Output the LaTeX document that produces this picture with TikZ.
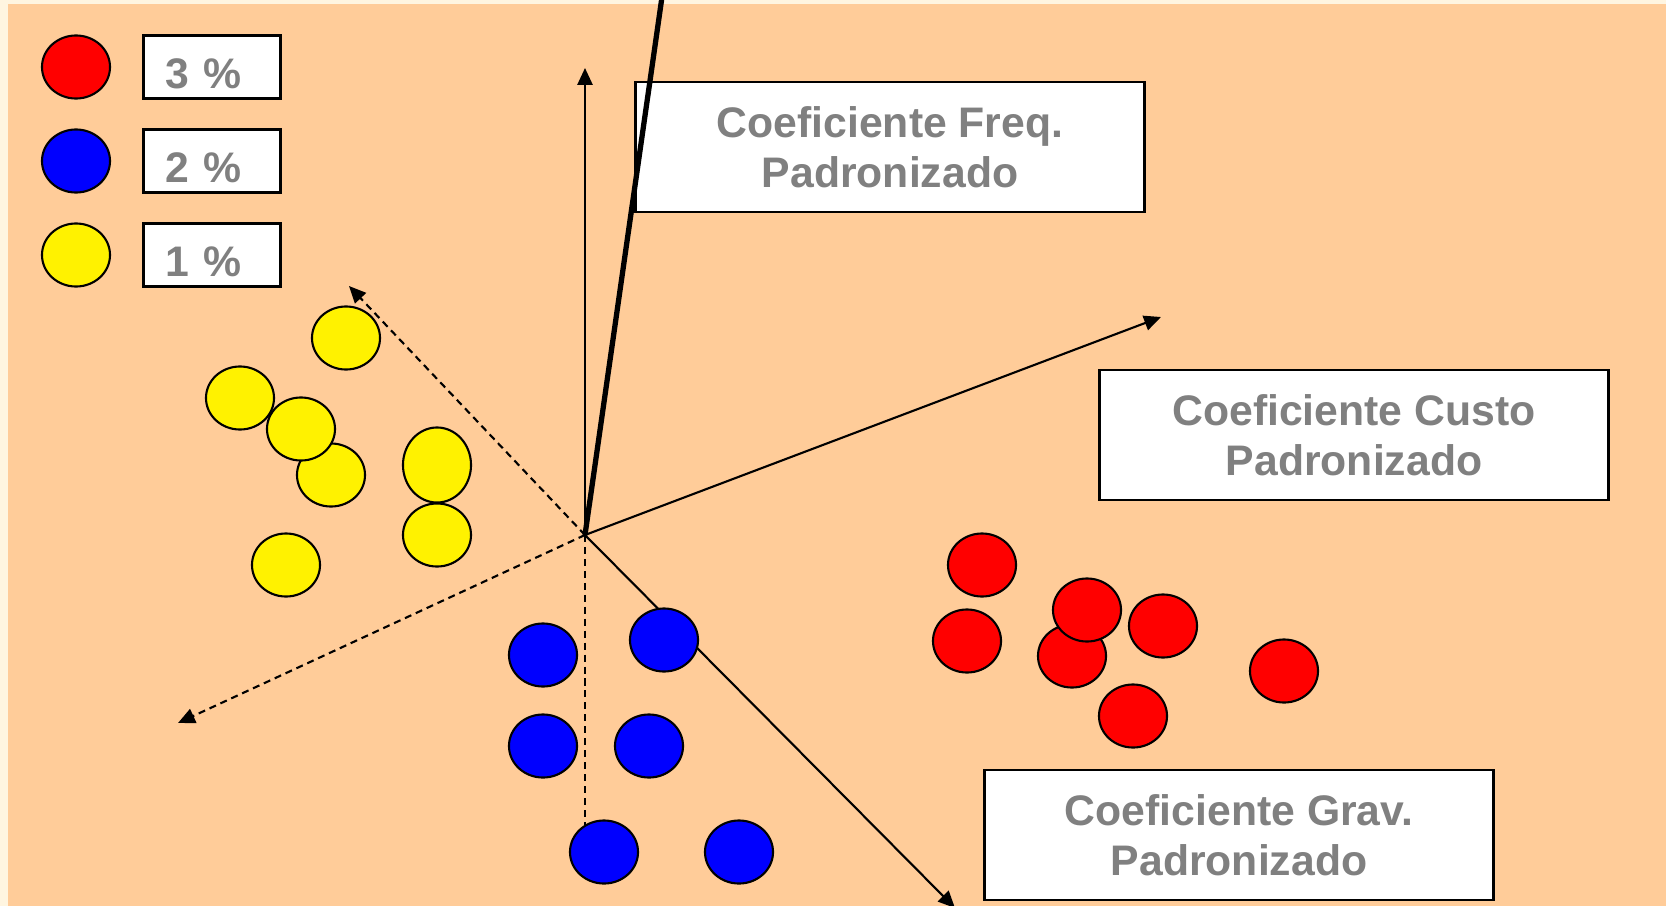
\documentclass[tikz,border=0pt]{standalone}
\usepackage{fontspec}
\setmainfont{Liberation Sans}
\usepackage{xcolor}
\usepackage{tikz}
\usetikzlibrary{arrows.meta}
\usetikzlibrary{shapes,arrows}
\definecolor{peach}{HTML}{FFCC99}
\definecolor{cream}{HTML}{FFF5E0}
\definecolor{labelgray}{HTML}{808080}
\tikzstyle{arrow} = [line width=0.6pt,-{Triangle[length=4.8pt,width=4.3pt]}]
\tikzstyle{dasharrow} = [arrow, dash pattern=on 2pt off 1.4pt]
\tikzstyle{dot} = [ellipse, draw, line width=0.6pt, minimum width=0.68cm, minimum height=0.63cm, inner sep=0pt]
\tikzstyle{coefbox} = [draw, fill=white, line width=0.7pt, minimum width=5.09cm, minimum height=1.3cm, inner sep=0pt, align=center, text=labelgray, font=\fontsize{12.15}{14.2}\selectfont\bfseries]
\tikzstyle{legbox} = [draw, fill=white, line width=0.7pt, minimum width=1.366cm, minimum height=0.628cm, inner xsep=0.22cm, inner ysep=0pt, text width=0.926cm, text height=0.434cm, text depth=0pt, align=left, text=labelgray, font=\fontsize{12.15}{14.2}\selectfont\bfseries]

\begin{document}
\begin{tikzpicture}[x=0.01cm, y=-0.01cm]
    \fill[cream] (0,0) rectangle (1666,906);
    \fill[peach] (8,4) rectangle (1666,906);
    \useasboundingbox (0,0) rectangle (1666,906);

    \node[dot, fill=red] (leg3) at (76,67) {};
    \node[dot, fill=blue] (leg2) at (76,161) {};
    \node[dot, fill=yellow] (leg1) at (76,255) {};
    \node[legbox] (pct3) at (212,67) {3 \%};
    \node[legbox] (pct2) at (212,161) {2 \%};
    \node[legbox] (pct1) at (212,255) {1 \%};

    \node[coefbox] (freq) at (890,147) {Coeficiente Freq.\\Padronizado};
    \node[coefbox] (custo) at (1354,435) {Coeficiente Custo\\Padronizado};
    \node[coefbox] (grav) at (1239,835) {Coeficiente Grav.\\Padronizado};

    \coordinate (O) at (585,535);
    \coordinate (up) at (585,68);
    \coordinate (top) at (663,-10);
    \coordinate (right) at (1161,317);
    \coordinate (down) at (955,908);
    \coordinate (upleft) at (349,286);
    \coordinate (downleft) at (178,723);
    \coordinate (bottom) at (585,845);

    \draw[arrow] (O) -- (up);
    \draw[arrow] (O) -- (right);
    \draw[arrow] (O) -- (down);
    \draw[dasharrow] (O) -- (upleft);
    \draw[dasharrow] (O) -- (downleft);
    \draw[line width=0.6pt, dash pattern=on 2pt off 1.4pt] (O) -- (bottom);
    \draw[line width=1.5pt] (O) -- (top);

    \node[dot, fill=yellow] (y1) at (346,338) {};
    \node[dot, fill=yellow] (y2) at (240,398) {};
    \node[dot, fill=yellow] (y3) at (331,475) {};
    \node[dot, fill=yellow] (y4) at (301,429) {};
    \node[dot, fill=yellow, minimum height=0.75cm] (y5) at (437,465) {};
    \node[dot, fill=yellow] (y6) at (437,535) {};
    \node[dot, fill=yellow] (y7) at (286,565) {};

    \node[dot, fill=blue] (b1) at (543,655) {};
    \node[dot, fill=blue] (b2) at (664,640) {};
    \node[dot, fill=blue] (b3) at (543,746) {};
    \node[dot, fill=blue] (b4) at (649,746) {};
    \node[dot, fill=blue] (b5) at (604,852) {};
    \node[dot, fill=blue] (b6) at (739,852) {};

    \node[dot, fill=red] (r1) at (982,565) {};
    \node[dot, fill=red] (r2) at (967,641) {};
    \node[dot, fill=red] (r3) at (1072,656) {};
    \node[dot, fill=red] (r4) at (1087,610) {};
    \node[dot, fill=red] (r5) at (1163,626) {};
    \node[dot, fill=red] (r6) at (1284,671) {};
    \node[dot, fill=red] (r7) at (1133,716) {};

\end{tikzpicture}
\end{document}
